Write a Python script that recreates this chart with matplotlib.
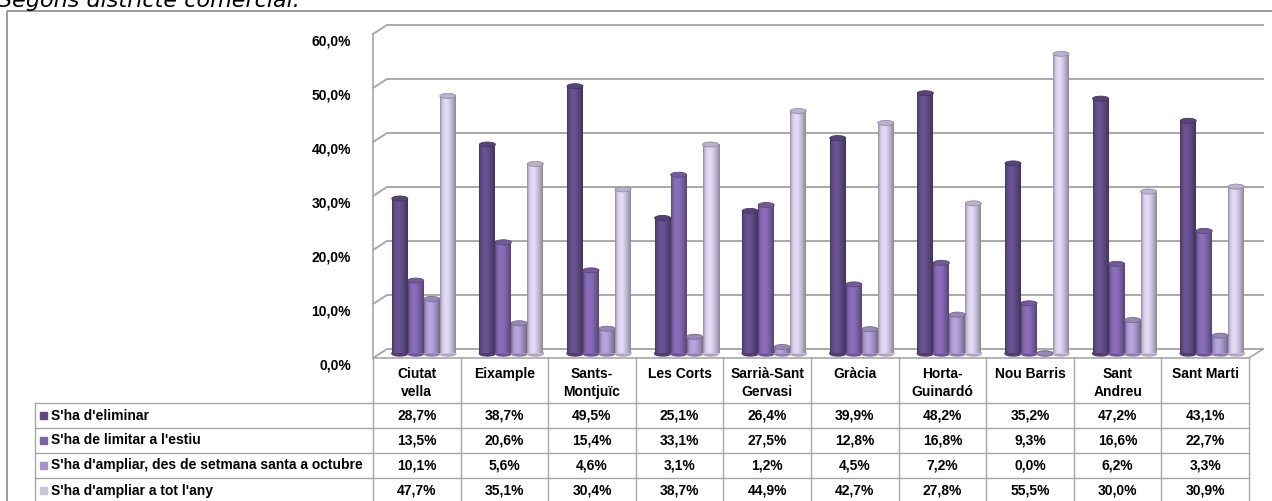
import numpy as np
import matplotlib
matplotlib.use("Agg")
import matplotlib.pyplot as plt
from matplotlib.patches import Rectangle, Ellipse
from matplotlib import font_manager

# data
districts = ["Ciutat\nvella", "Eixample", "Sants-\nMontjuïc", "Les Corts", "Sarrià-Sant\nGervasi",
             "Gràcia", "Horta-\nGuinardó", "Nou Barris", "Sant\nAndreu", "Sant Marti"]
series_names = ["S'ha d'eliminar", "S'ha de limitar a l'estiu",
                "S'ha d'ampliar, des de setmana santa a octubre", "S'ha d'ampliar a tot l'any"]
eliminar = [28.7, 38.7, 49.5, 25.1, 26.4, 39.9, 48.2, 35.2, 47.2, 43.1]
limitar_estiu = [13.5, 20.6, 15.4, 33.1, 27.5, 12.8, 16.8, 9.3, 16.6, 22.7]
ampliar_setmana_santa = [10.1, 5.6, 4.6, 3.1, 1.2, 4.5, 7.2, 0.0, 6.2, 3.3]
ampliar_tot_any = [47.7, 35.1, 30.4, 38.7, 44.9, 42.7, 27.8, 55.5, 30.0, 30.9]
y_ticks = [0, 10, 20, 30, 40, 50, 60]

series = [eliminar, limitar_estiu, ampliar_setmana_santa, ampliar_tot_any]
colors = ["#5e4a82", "#7d63a8", "#a594c6", "#cbc3dd"]

names = {f.name for f in font_manager.fontManager.ttflist}
FONT = "Liberation Sans" if "Liberation Sans" in names else "DejaVu Sans"
GRID = "#a8a8a8"

W, H = 1272, 501
fig = plt.figure(figsize=(W / 100, H / 100), dpi=100)

# layout in pixels
PLOT_L, PLOT_R = 373, 1249
FLOOR_Y, TOP_Y = 358, 34
COL_W = (PLOT_R - PLOT_L) / len(districts)
px_per_pct = (FLOOR_Y - TOP_Y) / 60.0
DX = 14 / COL_W            # depth offset in category units
DY = 9 / px_per_pct        # depth offset in percent units

ax = fig.add_axes([PLOT_L / W, (H - FLOOR_Y) / H, (PLOT_R - PLOT_L) / W, (FLOOR_Y - TOP_Y) / H])
ax.set_xlim(-0.5, len(districts) - 0.5)
ax.set_ylim(0, 60)
ax.patch.set_alpha(0)
for s in ["top", "right", "bottom"]:
    ax.spines[s].set_visible(False)
ax.spines["left"].set_color(GRID)
ax.spines["left"].set_linewidth(1.2)
ax.set_xticks([])
ax.set_yticks(y_ticks)
ax.set_yticklabels([f"{v:.1f}%".replace(".", ",") for v in y_ticks],
                   fontfamily=FONT, fontweight="bold", fontsize=10)
ax.tick_params(axis="y", length=0, pad=16)
for lbl in ax.get_yticklabels():
    lbl.set_y(lbl.get_position()[1])
    lbl.set_va("top")

# back wall gridlines with the little perspective step on the left
x0, x1 = -0.5, len(districts) - 0.5
for v in y_ticks:
    ax.plot([x0, x0 + DX, x1 + DX], [v, v + DY, v + DY], color=GRID, lw=1.4,
            clip_on=False, zorder=1)
# floor
ax.plot([x0, x1, x1 + DX], [0, 0, DY], color=GRID, lw=1.2, clip_on=False, zorder=1)

# cylinders
bar_w = 16 / COL_W
x = np.arange(len(districts))
offsets = (np.arange(4) - 1.5) * bar_w
t = np.linspace(0, 1, 40)
shade = 0.7 + 0.42 * np.sin(np.pi * t ** 0.7)
cap_h = 5 / px_per_pct
base = DY / 2
for k, (vals, col) in enumerate(zip(series, colors)):
    rgb = np.array(matplotlib.colors.to_rgb(col))
    grad = np.clip(rgb[None, :] * shade[:, None], 0, 1)
    img = np.concatenate([grad, np.ones((len(t), 1))], axis=1)[None, :, :]
    xs = x + DX / 2 + offsets[k]
    ax.bar(xs, vals, width=bar_w, bottom=base, color=col, zorder=2 + k * 0.01, clip_on=False)
    for xi, v in zip(xs, vals):
        ax.imshow(img, extent=(xi - bar_w / 2, xi + bar_w / 2, base, base + v),
                  aspect="auto", zorder=2.05, clip_on=False, interpolation="bilinear")
        ax.add_patch(Ellipse((xi, base), bar_w, cap_h, color=tuple(rgb * 0.85),
                             zorder=2.0, clip_on=False))
        ax.add_patch(Ellipse((xi, base + v), bar_w, cap_h, facecolor=tuple(rgb * 0.92),
                             edgecolor=tuple(rgb * 0.72), lw=0.6, zorder=2.1, clip_on=False))
ax.set_xlim(-0.5, len(districts) - 0.5)
ax.set_ylim(0, 60)

# data table below the chart
LBL_L = 35
ROW_TOP, HDR_H, ROW_H = 357, 46, 25
tab = fig.add_axes([0, 0, 1, 1], zorder=-1)
tab.set_xlim(0, W)
tab.set_ylim(H, 0)
tab.axis("off")
n_rows = len(series)
table_bottom = ROW_TOP + HDR_H + n_rows * ROW_H
for c in range(len(districts) + 1):
    cx = PLOT_L + c * COL_W
    tab.plot([cx, cx], [ROW_TOP, table_bottom], color=GRID, lw=1)
tab.plot([LBL_L, LBL_L], [ROW_TOP + HDR_H, table_bottom], color=GRID, lw=1)
for r in range(n_rows + 1):
    ry = ROW_TOP + HDR_H + r * ROW_H
    tab.plot([LBL_L, PLOT_R], [ry, ry], color=GRID, lw=1)

txt = dict(fontfamily=FONT, fontweight="bold", fontsize=10, color="black")
for c, name in enumerate(districts):
    cx = PLOT_L + (c + 0.5) * COL_W
    tab.text(cx, ROW_TOP + 10, name, ha="center", va="top", linespacing=1.4, **txt)
for r, (label, vals, col) in enumerate(zip(series_names, series, colors)):
    cy = ROW_TOP + HDR_H + (r + 0.5) * ROW_H
    tab.add_patch(Rectangle((40, cy - 3.5), 7, 7, color=col))
    tab.text(51, cy, label, ha="left", va="center", **txt)
    for c, v in enumerate(vals):
        cx = PLOT_L + (c + 0.5) * COL_W
        tab.text(cx, cy, f"{v:.1f}%".replace(".", ","), ha="center", va="center", **txt)

# outer frame and the title, cut off at the top as in the source screenshot
tab.add_patch(Rectangle((7, 11), W, H, fill=False, edgecolor="#8c8c8c", lw=1.2, clip_on=False))
tab.text(-2, 7, "Segons districte comercial.", fontstyle="italic", fontsize=16,
         ha="left", va="baseline", fontfamily="DejaVu Sans")

fig.savefig("out.png", dpi=100)
